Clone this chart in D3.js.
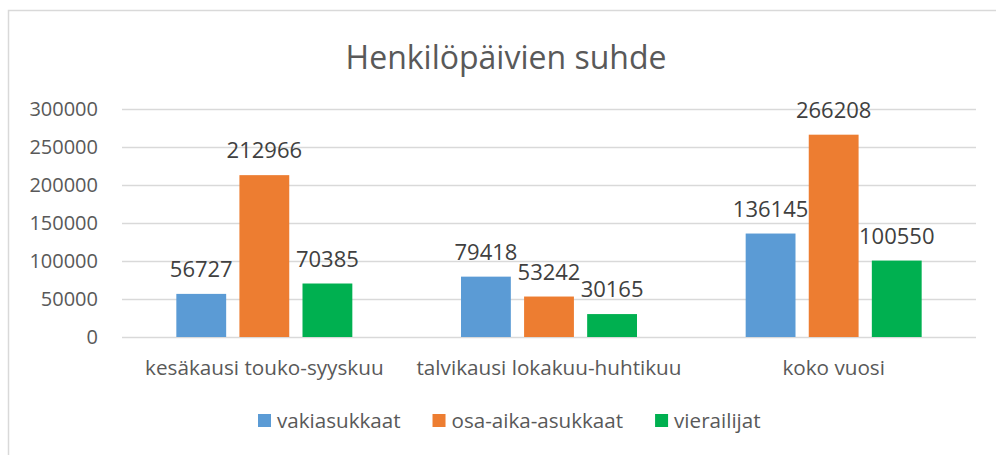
<!DOCTYPE html>
<html>
<head>
<meta charset="utf-8">
<script src="https://cdn.jsdelivr.net/npm/d3@7"></script>
<style>
  body { margin: 0; background: #fff; }
  svg { display: block; font-family: "Open Sans", sans-serif; }
</style>
</head>
<body>
<svg width="996" height="455"></svg>
<script>
var categories = ["kesäkausi touko-syyskuu", "talvikausi lokakuu-huhtikuu", "koko vuosi"];
var seriesNames = ["vakiasukkaat", "osa-aika-asukkaat", "vierailijat"];
var vakiasukkaat = [56727, 79418, 136145];
var osaAika = [212966, 53242, 266208];
var vierailijat = [70385, 30165, 100550];
var yTicks = [0, 50000, 100000, 150000, 200000, 250000, 300000];
var colors = ["#5B9BD5", "#ED7D31", "#00B050"];

var values = [vakiasukkaat, osaAika, vierailijat];

var svg = d3.select("svg");

// chart frame (right and bottom edges fall outside the picture)
svg.append("rect")
  .attr("x", 8.5).attr("y", 10.5)
  .attr("width", 1000).attr("height", 460)
  .attr("fill", "#fff")
  .attr("stroke", "#D9D9D9")
  .attr("stroke-width", 1.5);

svg.append("text")
  .attr("x", 506).attr("y", 69)
  .attr("text-anchor", "middle")
  .attr("fill", "#595959")
  .attr("font-size", 32)
  .text("Henkilöpäivien suhde");

var x0 = d3.scaleBand().domain(categories).range([122, 976]);
var x1 = d3.scaleBand().domain(seriesNames).range([0, 176]).paddingInner(0.21);
var y = d3.scaleLinear().domain([0, 300000]).range([337, 109]);

// gridlines
svg.append("g").selectAll("line")
  .data(yTicks)
  .enter().append("line")
    .attr("x1", 122).attr("x2", 976)
    .attr("y1", function(d) { return Math.round(y(d)) + 0.5; })
    .attr("y2", function(d) { return Math.round(y(d)) + 0.5; })
    .attr("stroke", "#D9D9D9")
    .attr("stroke-width", 1.3);

// y tick labels
svg.append("g").selectAll("text")
  .data(yTicks)
  .enter().append("text")
    .attr("x", 98)
    .attr("y", function(d) { return y(d); })
    .attr("dy", "0.36em")
    .attr("text-anchor", "end")
    .attr("fill", "#595959")
    .attr("font-size", 20)
    .text(function(d) { return d; });

var groups = svg.append("g").selectAll("g")
  .data(categories)
  .enter().append("g")
    .attr("transform", function(d) {
      return "translate(" + (x0(d) + (x0.bandwidth() - 176) / 2) + ",0)";
    });

groups.selectAll("rect")
  .data(function(d, i) {
    return seriesNames.map(function(s, j) { return {s: s, v: values[j][i], j: j}; });
  })
  .enter().append("rect")
    .attr("x", function(d) { return x1(d.s); })
    .attr("width", x1.bandwidth())
    .attr("y", function(d) { return y(d.v); })
    .attr("height", function(d) { return y(0) - y(d.v); })
    .attr("fill", function(d) { return colors[d.j]; });

groups.selectAll("text")
  .data(function(d, i) {
    return seriesNames.map(function(s, j) { return {s: s, v: values[j][i]}; });
  })
  .enter().append("text")
    .attr("x", function(d) { return x1(d.s) + x1.bandwidth() / 2; })
    .attr("y", function(d) { return y(d.v) - 17; })
    .attr("text-anchor", "middle")
    .attr("fill", "#404040")
    .attr("font-size", 22)
    .text(function(d) { return d.v; });

// category labels
svg.append("g").selectAll("text")
  .data(categories)
  .enter().append("text")
    .attr("x", function(d) { return x0(d) + x0.bandwidth() / 2; })
    .attr("y", 375)
    .attr("text-anchor", "middle")
    .attr("fill", "#595959")
    .attr("font-size", 20.7)
    .text(function(d) { return d; });

// legend
var legend = svg.append("g");
var lx = 258;
seriesNames.forEach(function(s, i) {
  legend.append("rect")
    .attr("x", lx).attr("y", 414)
    .attr("width", 13).attr("height", 13)
    .attr("fill", colors[i]);
  var t = legend.append("text")
    .attr("x", lx + 19).attr("y", 428)
    .attr("fill", "#595959")
    .attr("font-size", 20.6)
    .text(s);
  lx += 19 + t.node().getComputedTextLength() + 32;
});
</script>
</body>
</html>
